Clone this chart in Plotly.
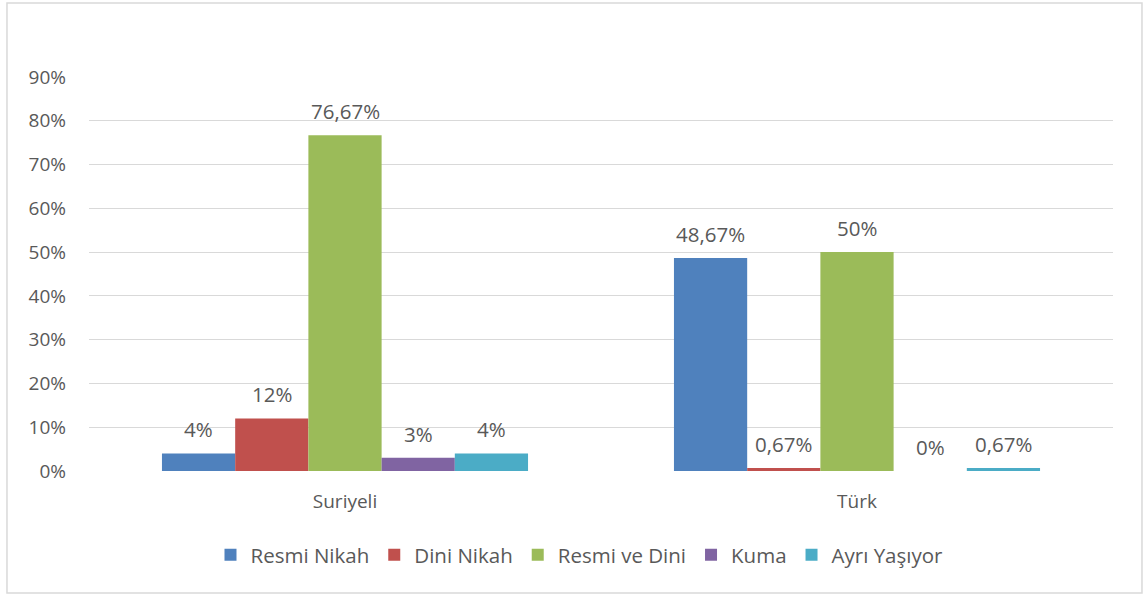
import plotly.graph_objects as go

categories = ["Suriyeli", "Türk"]
series_names = ["Resmi Nikah", "Dini Nikah", "Resmi ve Dini", "Kuma", "Ayrı Yaşıyor"]
values = {
    "Resmi Nikah": [4, 48.67],
    "Dini Nikah": [12, 0.67],
    "Resmi ve Dini": [76.67, 50],
    "Kuma": [3, 0],
    "Ayrı Yaşıyor": [4, 0.67],
}
colors = ["#4F81BD", "#C0504D", "#9BBB59", "#8064A2", "#4BACC6"]
y_ticks = [0, 10, 20, 30, 40, 50, 60, 70, 80, 90]


def fmt(v):
    s = ("%.2f" % v).rstrip("0").rstrip(".")
    return s.replace(".", ",") + "%"


FONT = "Open Sans"
TXT = "#595959"
FS = 19
FS_LBL = 20.5
FS_LEG = 20.5
bargap = 0.285
n = len(series_names)
bw = (1 - bargap) / n

fig = go.Figure()
xs = list(range(len(categories)))
for j, name in enumerate(series_names):
    fig.add_trace(go.Bar(
        x=xs, y=values[name], name=name,
        marker=dict(color=colors[j], line=dict(width=0)),
        hoverinfo="y+name",
    ))

annotations = []
for j, name in enumerate(series_names):
    for i, v in enumerate(values[name]):
        annotations.append(dict(
            x=i + (j - (n - 1) / 2) * bw, y=v, xref="x", yref="y",
            text=fmt(v), showarrow=False, yshift=24, yanchor="middle",
            font=dict(family=FONT, size=FS_LBL, color=TXT),
        ))

fig.update_layout(
    width=1148, height=597,
    margin=dict(l=89, r=35, t=77, b=126),
    paper_bgcolor="white", plot_bgcolor="white",
    barmode="group", bargap=bargap, bargroupgap=0,
    font=dict(family=FONT, size=FS, color=TXT),
    xaxis=dict(range=[-0.5, len(categories) - 0.5], tickvals=xs, ticktext=categories,
               showgrid=False, zeroline=False, showline=False, ticks="",
               ticklabelstandoff=17,
               tickfont=dict(family=FONT, size=FS, color=TXT)),
    yaxis=dict(range=[0, 90], tickvals=y_ticks, ticktext=[f"{t}%" for t in y_ticks],
               showgrid=True, gridcolor="#D9D9D9", gridwidth=1, zeroline=False,
               showline=False, ticks="", ticklabelstandoff=22,
               tickfont=dict(family=FONT, size=FS, color=TXT)),
    legend=dict(orientation="h", x=0.479, xanchor="center", y=-0.213, yanchor="middle",
                font=dict(family=FONT, size=FS_LEG, color=TXT), traceorder="normal"),
    annotations=annotations,
    shapes=[dict(type="rect", xref="paper", yref="paper",
                 x0=-0.0801, x1=1.0283, y0=-0.3096, y1=1.1878,
                 line=dict(color="#D9D9D9", width=1.5), fillcolor="rgba(0,0,0,0)",
                 layer="below")],
)

fig.write_html("out.html", config={"displayModeBar": False},
               post_script="document.body.style.margin='0px';document.body.style.overflow='hidden';")
